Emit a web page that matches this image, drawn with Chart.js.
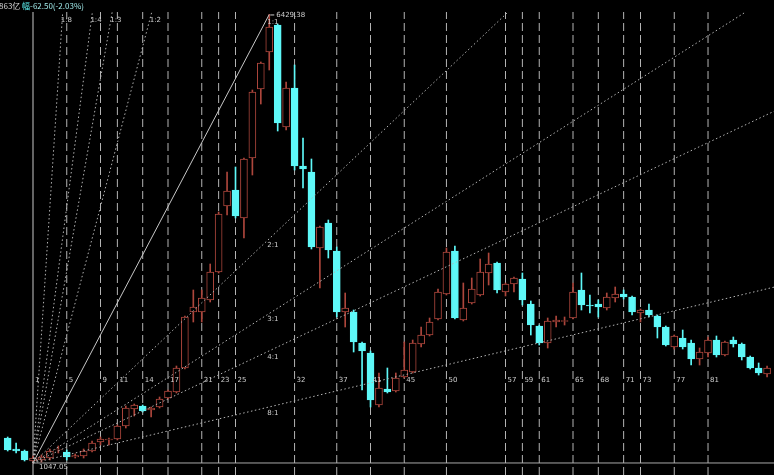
<!DOCTYPE html>
<html><head><meta charset="utf-8">
<script src="https://cdn.jsdelivr.net/npm/chart.js@4.4.1/dist/chart.umd.min.js"></script>
<style>html,body{margin:0;padding:0;background:#000;overflow:hidden}#wrap{width:774px;height:475px;position:relative}</style>
</head><body><div id="wrap"><canvas id="c" width="774" height="475"></canvas></div>
<script>
// bar numbers (1 = the low bar where the Gann fan starts)
const bars = [-2,-1,0,1,2,3,4,5,6,7,8,9,10,11,12,13,14,15,16,17,18,19,20,21,22,23,24,25,26,27,28,29,30,31,32,33,34,35,36,37,38,39,40,41,42,43,44,45,46,47,48,49,50,51,52,53,54,55,56,57,58,59,60,61,62,63,64,65,66,67,68,69,70,71,72,73,74,75,76,77,78,79,80,81,82,83,84,85,86,87,88];
const opens  = [1347,1215,1191,1071,1083,1107,1203,1179,1119,1131,1191,1299,1323,1335,1491,1695,1731,1683,1719,1827,1899,2187,2859,2859,3003,3339,4131,4323,3987,4707,5535,5979,6303,5079,5547,4611,4539,3627,3927,3591,2859,2859,2487,2367,1743,1935,1911,2079,2139,2475,2583,2775,3075,3591,2763,2967,3063,3327,3447,3099,3195,3255,2955,2691,2487,2739,2745,2787,3123,2943,2955,2907,3027,3075,3039,2847,2883,2811,2679,2439,2547,2487,2295,2367,2523,2343,2523,2475,2319,2187,2115];
const highs  = [1359,1287,1203,1131,1143,1215,1251,1203,1155,1215,1311,1359,1347,1503,1731,1755,1743,1719,1839,1923,2211,2811,3123,3123,3435,4059,4539,4599,4707,5523,5859,6429.38,6315,5619,5823,4947,4695,3891,3963,3639,3087,2883,2499,2391,2127,2187,2127,2499,2523,2679,2787,3135,3627,3651,3207,3267,3495,3567,3459,3207,3279,3327,2991,2703,2787,2811,2799,3207,3327,3063,3003,3087,3159,3123,3051,2895,2955,2823,2691,2583,2643,2523,2427,2559,2571,2511,2559,2487,2331,2247,2211];
const lows   = [1191,1167,1071,1047.05,1059,1083,1167,1083,1107,1107,1179,1263,1263,1323,1467,1611,1659,1599,1707,1815,1887,2175,2739,2739,2979,3327,4023,3987,3747,4503,5355,5763,5031,5043,4563,4347,3615,3147,3507,2799,2679,2379,1923,1719,1719,1887,1899,2067,2127,2439,2571,2763,3063,2775,2751,2955,3051,3183,3087,3051,3099,2943,2583,2463,2427,2679,2703,2775,2883,2847,2799,2883,2979,3015,2823,2739,2799,2547,2451,2415,2415,2223,2223,2319,2319,2331,2439,2283,2175,2103,2079];
const closes = [1203,1191,1083,1107,1119,1191,1209,1119,1137,1191,1287,1335,1335,1491,1707,1743,1671,1707,1815,1911,2187,2799,2919,3027,3339,4035,4311,4011,4695,5499,5847,6279,5127,5547,4611,4575,3639,3879,3603,2859,2907,2499,2391,1803,1947,1899,2067,2163,2487,2583,2739,3099,3579,2787,2907,3135,3339,3435,3123,3195,3267,3003,2703,2487,2751,2763,2757,3099,2943,2931,2919,3039,3075,3039,2859,2883,2823,2679,2463,2571,2439,2295,2379,2523,2343,2499,2475,2319,2187,2127,2187];

// time-cycle marks (vertical lines) and Gann fan
const cycleMarks = [5,9,11,14,17,21,23,25,32,37,41,45,50,57,59,61,65,68,71,73,77,81];
const fanLabels  = ['1:8','1:4','1:3','1:2','1:1','2:1','3:1','4:1','8:1'];
const fanFactors = [8,4,3,2,1,1/2,1/3,1/4,1/8];
const lowBar = 1, lowPrice = 1047.05, highBar = 29, highPrice = 6429.38;
const headerParts = ['863亿 ', '幅', '-62.50(-2.03%)'];

const X_MIN = -2.911, X_MAX = 88.82, Y_MIN = 903, Y_MAX = 6459;
const UP = '#ad463c', DOWN = '#5ef8f8';
const isUp = bars.map((b,i)=>closes[i] >= opens[i]);

const datasets = [];
// vertical cycle lines
cycleMarks.forEach(m=>datasets.push({type:'line',data:[{x:m,y:Y_MIN},{x:m,y:Y_MAX}],borderColor:'#b4b4b4',borderWidth:1,borderDash:[8,4],pointRadius:0,order:6,clip:0}));
datasets.push({type:'line',data:[{x:lowBar,y:Y_MIN},{x:lowBar,y:Y_MAX}],borderColor:'#a8a8a8',borderWidth:1.2,pointRadius:0,order:6,clip:0});
datasets.push({type:'line',data:[{x:lowBar,y:lowPrice},{x:X_MAX,y:lowPrice}],borderColor:'#a8a8a8',borderWidth:1,pointRadius:0,order:6,clip:0});
// wicks
datasets.push({type:'bar',data:bars.map((b,i)=>({x:b,y:[lows[i],highs[i]]})),backgroundColor:isUp.map(u=>u?UP:DOWN),borderWidth:0,barThickness:1,grouped:false,order:3});
// bodies
datasets.push({type:'bar',data:bars.map((b,i)=>({x:b,y:[opens[i],closes[i]]})),backgroundColor:isUp.map(u=>u?'#000':DOWN),borderColor:isUp.map(u=>u?UP:DOWN),borderWidth:1,borderSkipped:false,barThickness:7,grouped:false,order:2});
// fan lines
const unit = (highPrice-lowPrice)/(highBar-lowBar);
fanFactors.forEach((f,k)=>{
  const endX = f===1 ? highBar : 120;
  const endY = lowPrice + f*unit*(endX-lowBar);
  datasets.push({type:'line',data:[{x:lowBar,y:lowPrice},{x:endX,y:endY}],borderColor:f===1?'#c8c8c8':'#b4b4b4',borderWidth:1,borderDash:f===1?[]:[1.5,2.5],pointRadius:0,order:1,clip:0});
});

const labelPlugin = {
  id:'labels',
  afterDatasetsDraw(chart){
    const ctx = chart.ctx, xs = chart.scales.x, ys = chart.scales.y;
    ctx.save();
    ctx.font = '7px "DejaVu Sans"';
    ctx.textBaseline = 'middle';
    ctx.fillStyle = '#cfcfcf';
    // cycle labels
    ctx.fillText(String(lowBar), xs.getPixelForValue(lowBar)+2, 380);
    cycleMarks.forEach(m=>ctx.fillText(String(m), xs.getPixelForValue(m)+2, 380));
    // fan labels
    fanFactors.forEach((f,k)=>{
      if (f>1){
        const bx = lowBar + (Y_MAX-lowPrice)/(f*unit);
        ctx.fillText(fanLabels[k], xs.getPixelForValue(bx)-2, 20);
      } else {
        const py = ys.getPixelForValue(lowPrice + f*unit*(highBar-lowBar));
        ctx.fillText(fanLabels[k], xs.getPixelForValue(highBar)-2, py+(f===1?8:6));
      }
    });
    // extreme labels
    const hx = xs.getPixelForValue(highBar), hy = ys.getPixelForValue(highPrice);
    ctx.strokeStyle='#cfcfcf'; ctx.lineWidth=1;
    ctx.beginPath(); ctx.moveTo(hx+1,hy+0.5); ctx.lineTo(hx+5,hy+0.5); ctx.stroke();
    ctx.fillText(highPrice.toFixed(2), hx+7, hy+1);
    const lx = xs.getPixelForValue(lowBar), ly = ys.getPixelForValue(lowPrice);
    ctx.fillText(lowPrice.toFixed(2), lx+6, ly+4);
    // header
    ctx.font = '8px "Noto Sans CJK SC"';
    let x = -1;
    const cols = ['#d8d8d8', DOWN, '#9fe8e8'];
    headerParts.forEach((t,k)=>{ctx.fillStyle=cols[k]; ctx.fillText(t,x,6); x += ctx.measureText(t).width;});
    ctx.restore();
  }
};

new Chart(document.getElementById('c'), {
  type:'bar',
  data:{datasets},
  options:{
    responsive:false, animation:false,
    layout:{padding:{top:12,left:0,right:0,bottom:0}},
    plugins:{legend:{display:false},tooltip:{enabled:false}},
    scales:{
      x:{type:'linear',min:X_MIN,max:X_MAX,display:false,offset:false},
      y:{type:'linear',min:Y_MIN,max:Y_MAX,display:false}
    }
  },
  plugins:[{id:'bg',beforeDraw(c){c.ctx.save();c.ctx.fillStyle='#000';c.ctx.fillRect(0,0,c.width,c.height);c.ctx.restore();}}, labelPlugin]
});
</script></body></html>
